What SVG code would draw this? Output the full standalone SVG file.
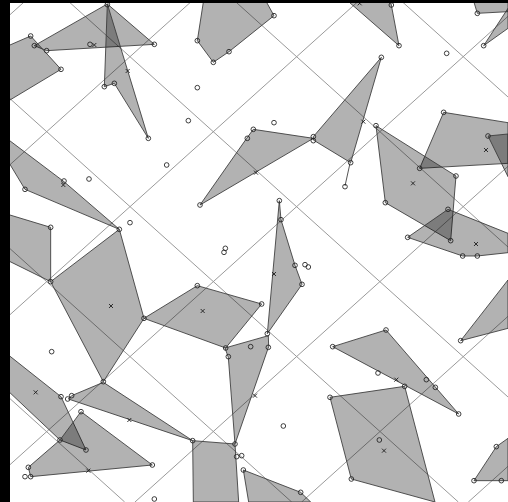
<svg xmlns="http://www.w3.org/2000/svg" width="508" height="502" viewBox="0 0 508 502">
<style>
.grid line{stroke:#9a9a9a;stroke-width:3}
.poly polygon{fill:#000;fill-opacity:0.3;stroke:#3a3a3a;stroke-width:2.6;stroke-linejoin:round}
.pt{fill:none;stroke:#222;stroke-width:2.6}
.cx{fill:none;stroke:#222;stroke-width:2.8}
</style>
<defs>
<circle id="c" r="7" class="pt"/>
<path id="x" d="M-6,-6L6,6M-6,6L6,-6" class="cx"/>
</defs>
<rect width="508" height="502" fill="#fff"/>
<g transform="scale(0.333333)">
<g id="grid" class="grid">
<line x1="0" y1="1169" x2="374" y2="1506"/>
<line x1="0" y1="719" x2="875" y2="1506"/>
<line x1="0" y1="269" x2="1375" y2="1506"/>
<line x1="201" y1="0" x2="1524" y2="1191"/>
<line x1="701" y1="0" x2="1524" y2="741"/>
<line x1="1201" y1="0" x2="1524" y2="291"/>
<line x1="0" y1="71" x2="79" y2="0"/>
<line x1="0" y1="521" x2="579" y2="0"/>
<line x1="0" y1="971" x2="1079" y2="0"/>
<line x1="0" y1="1421" x2="1524" y2="49"/>
<line x1="405" y1="1506" x2="1524" y2="499"/>
<line x1="905" y1="1506" x2="1524" y2="949"/>
<line x1="1405" y1="1506" x2="1524" y2="1399"/>
</g>
<g id="shapes" class="poly">
<g id="p1"><polygon points="322,12 463,133 140,152 103,137"/></g>
<g id="p2"><polygon points="322,12 313,260 343,250 445,415"/></g>
<g id="p3"><polygon points="92,108 183,208 0,318 0,148"/></g>
<g id="p4"><polygon points="611,0 796,0 822,47 687,155 640,187 592,122"/></g>
<g id="p5"><polygon points="1040,0 1170,0 1174,15 1197,137"/></g>
<g id="p6"><polygon points="1420,0 1524,0 1524,35 1432,40"/></g>
<g id="p7"><polygon points="1451,137 1524,25 1524,85"/></g>
<g id="p8"><polygon points="1144,172 1052,488 940,420 940,410"/><line x1="1050" y1="490" x2="1035" y2="558" stroke="#3a3a3a" stroke-width="2.6"/></g>
<g id="p9"><polygon points="760,388 940,415 600,615 740,415"/></g>
<g id="p10"><polygon points="1331,337 1524,368 1524,490 1259,505"/></g>
<g id="p29"><polygon points="1464,408 1524,402 1524,530"/></g>
<g id="p11"><polygon points="1128,377 1368,528 1352,722 1156,608"/></g>
<g id="p12"><polygon points="1223,712 1344,628 1524,700 1524,758 1432,768 1388,768"/></g>
<g id="p13"><polygon points="0,400 192,545 358,688 75,568 10,460"/></g>
<g id="p14"><polygon points="0,636 152,682 152,845 0,770"/></g>
<g id="p15"><polygon points="358,688 432,955 310,1145 152,845"/></g>
<g id="p16"><polygon points="432,955 592,857 785,912 677,1044"/></g>
<g id="p17"><polygon points="838,602 843,659 885,796 906,853 802,1001"/></g>
<g id="p18"><polygon points="675,1044 805,1007 806,1040 705,1332 685,1072"/></g>
<g id="p19"><polygon points="578,1322 705,1332 716,1506 580,1506"/></g>
<g id="p20"><polygon points="730,1410 902,1477 932,1506 746,1506"/></g>
<g id="p21"><polygon points="310,1147 578,1322 205,1197 215,1187"/></g>
<g id="p22"><polygon points="0,1045 183,1190 258,1350 180,1320 0,1150"/></g>
<g id="p23"><polygon points="243,1235 457,1395 92,1430 85,1402 180,1320"/></g>
<g id="p24"><polygon points="998,1040 1158,990 1376,1242"/></g>
<g id="p25"><polygon points="990,1192 1214,1159 1305,1506 1054,1437"/></g>
<g id="p26"><polygon points="1422,1442 1489,1340 1524,1315 1524,1442"/></g>
<g id="p27"><polygon points="1382,1022 1524,840 1524,985"/></g>
</g>
<g id="points">
<use href="#c" x="322" y="14"/><use href="#c" x="463" y="133"/><use href="#c" x="140" y="152"/><use href="#c" x="103" y="137"/><use href="#c" x="92" y="108"/><use href="#c" x="270" y="133"/>
<use href="#c" x="313" y="260"/><use href="#c" x="343" y="250"/><use href="#c" x="445" y="415"/><use href="#c" x="183" y="208"/>
<use href="#c" x="822" y="47"/><use href="#c" x="687" y="155"/><use href="#c" x="640" y="187"/><use href="#c" x="592" y="122"/>
<use href="#c" x="1174" y="15"/><use href="#c" x="1197" y="137"/><use href="#c" x="1432" y="40"/><use href="#c" x="1451" y="137"/>
<use href="#c" x="1144" y="172"/><use href="#c" x="1052" y="488"/><use href="#c" x="940" y="410"/><use href="#c" x="940" y="422"/><use href="#c" x="1035" y="560"/>
<use href="#c" x="760" y="388"/><use href="#c" x="742" y="415"/><use href="#c" x="600" y="615"/>
<use href="#c" x="1331" y="337"/><use href="#c" x="1259" y="505"/><use href="#c" x="1464" y="408"/>
<use href="#c" x="1128" y="377"/><use href="#c" x="1368" y="528"/><use href="#c" x="1156" y="608"/><use href="#c" x="1352" y="722"/>
<use href="#c" x="1223" y="712"/><use href="#c" x="1344" y="628"/><use href="#c" x="1388" y="768"/><use href="#c" x="1432" y="768"/>
<use href="#c" x="192" y="543"/><use href="#c" x="75" y="568"/><use href="#c" x="358" y="688"/><use href="#c" x="152" y="682"/><use href="#c" x="152" y="845"/>
<use href="#c" x="432" y="955"/><use href="#c" x="310" y="1145"/><use href="#c" x="592" y="857"/><use href="#c" x="785" y="912"/><use href="#c" x="677" y="1044"/><use href="#c" x="685" y="1070"/>
<use href="#c" x="838" y="602"/><use href="#c" x="843" y="659"/><use href="#c" x="885" y="796"/><use href="#c" x="906" y="853"/><use href="#c" x="802" y="1001"/>
<use href="#c" x="805" y="1042"/><use href="#c" x="705" y="1332"/><use href="#c" x="578" y="1322"/><use href="#c" x="710" y="1370"/><use href="#c" x="725" y="1367"/>
<use href="#c" x="730" y="1410"/><use href="#c" x="902" y="1477"/>
<use href="#c" x="215" y="1187"/><use href="#c" x="183" y="1190"/><use href="#c" x="203" y="1197"/>
<use href="#c" x="243" y="1235"/><use href="#c" x="457" y="1395"/><use href="#c" x="85" y="1402"/><use href="#c" x="75" y="1430"/><use href="#c" x="92" y="1430"/><use href="#c" x="180" y="1320"/><use href="#c" x="258" y="1350"/>
<use href="#c" x="998" y="1040"/><use href="#c" x="1158" y="990"/><use href="#c" x="1134" y="1119"/><use href="#c" x="1214" y="1159"/><use href="#c" x="1279" y="1139"/><use href="#c" x="1306" y="1162"/><use href="#c" x="1376" y="1242"/>
<use href="#c" x="990" y="1192"/><use href="#c" x="1054" y="1437"/><use href="#c" x="1138" y="1320"/>
<use href="#c" x="1422" y="1442"/><use href="#c" x="1489" y="1340"/><use href="#c" x="1504" y="1442"/><use href="#c" x="1382" y="1022"/>
<use href="#c" x="592" y="263"/><use href="#c" x="565" y="362"/><use href="#c" x="500" y="495"/><use href="#c" x="822" y="368"/><use href="#c" x="267" y="537"/><use href="#c" x="390" y="668"/>
<use href="#c" x="676" y="745"/><use href="#c" x="672" y="757"/><use href="#c" x="915" y="794"/><use href="#c" x="925" y="801"/><use href="#c" x="1340" y="160"/>
<use href="#c" x="155" y="1055"/><use href="#c" x="752" y="1040"/><use href="#c" x="850" y="1278"/><use href="#c" x="463" y="1497"/>
</g>
<g id="centroids">
<use href="#x" x="283" y="135"/><use href="#x" x="383" y="213"/><use href="#x" x="1079" y="10"/><use href="#x" x="1090" y="365"/>
<use href="#x" x="768" y="518"/><use href="#x" x="1239" y="550"/><use href="#x" x="1458" y="450"/><use href="#x" x="1428" y="732"/>
<use href="#x" x="190" y="555"/><use href="#x" x="333" y="918"/><use href="#x" x="608" y="933"/><use href="#x" x="822" y="822"/>
<use href="#x" x="765" y="1187"/><use href="#x" x="388" y="1260"/><use href="#x" x="107" y="1177"/><use href="#x" x="265" y="1412"/>
<use href="#x" x="1189" y="1139"/><use href="#x" x="1152" y="1352"/>
</g>
</g>
<rect x="0" y="0" width="10" height="502" fill="#000"/>
<rect x="0" y="0" width="508" height="3" fill="#000"/>
</svg>
